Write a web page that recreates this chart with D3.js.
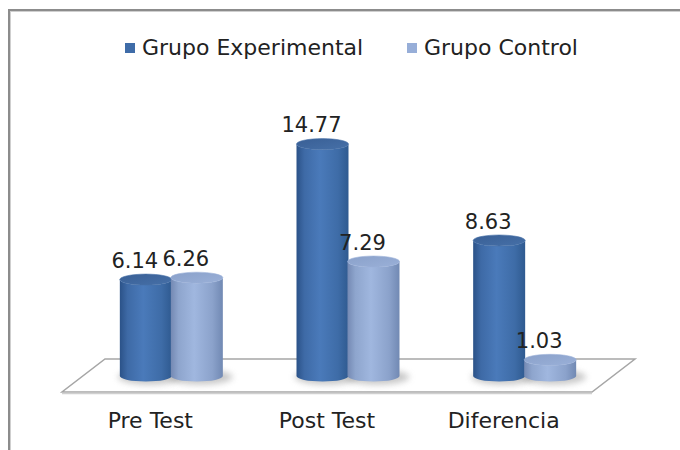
<!DOCTYPE html>
<html>
<head>
<meta charset="utf-8">
<script src="https://cdn.jsdelivr.net/npm/d3@7"></script>
<style>
  html, body { margin: 0; padding: 0; background: #fff; }
  svg { display: block; }
  text { font-family: "DejaVu Sans", Verdana, sans-serif; fill: #222; }
</style>
</head>
<body>
<svg id="chart" width="680" height="450"></svg>
<script>
const categories = ["Pre Test", "Post Test", "Diferencia"];
const seriesNames = ["Grupo Experimental", "Grupo Control"];
const experimental = [6.14, 14.77, 8.63];
const control = [6.26, 7.29, 1.03];
const valueLabels = [["6.14", "6.26"], ["14.77", "7.29"], ["8.63", "1.03"]];

const svg = d3.select("#chart");
const W = 680, H = 450;

// frame (top + left edges)
svg.append("line").attr("x1", 8).attr("x2", W).attr("y1", 10).attr("y2", 10)
  .attr("stroke", "#8c8c8c").attr("stroke-width", 2);
svg.append("line").attr("x1", 9).attr("x2", 9).attr("y1", 10).attr("y2", H)
  .attr("stroke", "#8c8c8c").attr("stroke-width", 2);
svg.append("line").attr("x1", 10).attr("x2", W).attr("y1", 11.5).attr("y2", 11.5)
  .attr("stroke", "#cfcfcf").attr("stroke-width", 1);
svg.append("line").attr("x1", 10.5).attr("x2", 10.5).attr("y1", 11).attr("y2", H)
  .attr("stroke", "#cfcfcf").attr("stroke-width", 1);

const defs = svg.append("defs");
const palettes = [
  { edgeL: "#2b5288", mid: "#4a7aba", edgeR: "#2f5a90", top: "#395f95", topLight: "#4670a8" },
  { edgeL: "#7489b3", mid: "#a0b7df", edgeR: "#7189b3", top: "#8aa1ca", topLight: "#9ab0d8" }
];
palettes.forEach((p, i) => {
  const g = defs.append("linearGradient").attr("id", "body" + i)
    .attr("x1", "0%").attr("x2", "100%").attr("y1", "0%").attr("y2", "0%");
  g.append("stop").attr("offset", "0%").attr("stop-color", p.edgeL);
  g.append("stop").attr("offset", "15%").attr("stop-color", d3.interpolateRgb(p.edgeL, p.mid)(0.6));
  g.append("stop").attr("offset", "45%").attr("stop-color", p.mid);
  g.append("stop").attr("offset", "80%").attr("stop-color", d3.interpolateRgb(p.mid, p.edgeR)(0.45));
  g.append("stop").attr("offset", "100%").attr("stop-color", p.edgeR);
  const t = defs.append("linearGradient").attr("id", "top" + i)
    .attr("x1", "0%").attr("x2", "100%").attr("y1", "0%").attr("y2", "100%");
  t.append("stop").attr("offset", "0%").attr("stop-color", p.top);
  t.append("stop").attr("offset", "100%").attr("stop-color", p.topLight);
});
const blur = defs.append("filter").attr("id", "blur").attr("x", "-50%").attr("y", "-50%")
  .attr("width", "200%").attr("height", "200%");
blur.append("feGaussianBlur").attr("stdDeviation", 3);

// scales
const x0 = d3.scaleBand().domain(categories).range([83, 613]).padding(0);
const x1 = d3.scaleBand().domain(seriesNames).range([0, 102]).padding(0);
const y = d3.scaleLinear().domain([0, 16]).range([376, 124.8]);

// floor (parallelogram)
const floorBackY = 359, floorFrontY = 392, depthShift = 43;
const fl = x0.range()[0] - 21, fr = x0.range()[1] - 21;
svg.append("path")
  .attr("d", `M${fl + depthShift},${floorBackY} L${fr + depthShift},${floorBackY} L${fr},${floorFrontY} L${fl},${floorFrontY} Z`)
  .attr("fill", "#fff").attr("stroke", "#a6a6a6").attr("stroke-width", 1.5);
svg.append("line").attr("x1", fl).attr("x2", fr).attr("y1", floorFrontY + 1.5).attr("y2", floorFrontY + 1.5)
  .attr("stroke", "#d0d0d0").attr("stroke-width", 1.5);

// data rows
const rows = categories.map((c, i) => ({ cat: c, vals: [experimental[i], control[i]], labels: valueLabels[i] }));
const rx = 26, ry = 5.5;
const cxOf = (cat, si) => x0(cat) + x0.bandwidth() / 2 - 51 + x1(seriesNames[si]) + x1.bandwidth() / 2;

rows.forEach(row => {
  row.vals.forEach((v, si) => {
    const cx = cxOf(row.cat, si);
    svg.append("ellipse").attr("cx", cx + 4).attr("cy", y(0) + 1).attr("rx", rx + 6).attr("ry", ry + 2)
      .attr("fill", "#9a9a9a").attr("opacity", 0.55).attr("filter", "url(#blur)");
  });
});

rows.forEach(row => {
  row.vals.forEach((v, si) => {
    const cx = cxOf(row.cat, si);
    const yb = y(0), yt = y(v);
    const xl = cx - rx, xr = cx + rx;
    svg.append("path")
      .attr("d", `M${xl},${yt} L${xl},${yb} A${rx},${ry} 0 0 0 ${xr},${yb} L${xr},${yt} A${rx},${ry} 0 0 1 ${xl},${yt} Z`)
      .attr("fill", `url(#body${si})`);
    svg.append("ellipse").attr("cx", cx).attr("cy", yt).attr("rx", rx).attr("ry", ry)
      .attr("fill", `url(#top${si})`).attr("stroke", palettes[si].topLight).attr("stroke-width", 0.6);
  });
});

// value labels
rows.forEach(row => {
  row.vals.forEach((v, si) => {
    svg.append("text")
      .attr("x", cxOf(row.cat, si) - 11).attr("y", y(v) - 12)
      .attr("text-anchor", "middle").attr("font-size", 21)
      .text(row.labels[si]);
  });
});

// category labels
svg.selectAll(".cat").data(categories).join("text")
  .attr("class", "cat")
  .attr("x", d => x0(d) + x0.bandwidth() / 2 - 21)
  .attr("y", 428)
  .attr("text-anchor", "middle").attr("font-size", 22)
  .text(d => d);

// legend
const legendItems = [
  { name: seriesNames[0], sx: 125, tx: 142, color: "#3f6ca8" },
  { name: seriesNames[1], sx: 407, tx: 424, color: "#97aed8" }
];
legendItems.forEach(d => {
  svg.append("rect").attr("x", d.sx).attr("y", 43).attr("width", 10).attr("height", 10).attr("fill", d.color);
  svg.append("text").attr("x", d.tx).attr("y", 55).attr("font-size", 22).text(d.name);
});
</script>
</body>
</html>
